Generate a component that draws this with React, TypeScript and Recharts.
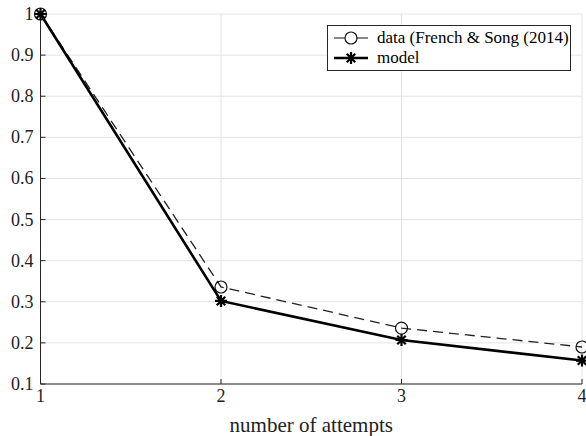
import React from "react";
import { LineChart, Line, XAxis, YAxis, CartesianGrid } from "recharts";

const attempts = [1, 2, 3, 4];
const frenchSong = [1, 0.336, 0.236, 0.19];
const model = [1, 0.302, 0.207, 0.157];
const yTicks = [0.1, 0.2, 0.3, 0.4, 0.5, 0.6, 0.7, 0.8, 0.9, 1];
const xTicks = [1, 2, 3, 4];

const chartData = attempts.map((a, i) => ({
  attempt: a,
  data: frenchSong[i],
  model: model[i],
}));

const FONT = "Liberation Serif";
const AXIS = "#262626";

const Circle = (props: any) => {
  const { cx, cy } = props;
  if (cx == null || cy == null) return <g />;
  return <circle cx={cx} cy={cy} r={6} fill="none" stroke="#111" strokeWidth={1.2} />;
};

const Star = (props: any) => {
  const { cx, cy } = props;
  if (cx == null || cy == null) return <g />;
  const r = 6;
  const d = [0, 45, 90, 135]
    .map((deg) => {
      const a = (deg * Math.PI) / 180;
      const dx = r * Math.cos(a);
      const dy = r * Math.sin(a);
      return `M${cx - dx},${cy - dy}L${cx + dx},${cy + dy}`;
    })
    .join("");
  return <path d={d} stroke="#000" strokeWidth={2.2} fill="none" />;
};

const yFmt = (v: number) => (v === 1 ? "1" : v.toFixed(1));

const YTick = (props: any) => {
  const { x, y, payload } = props;
  return (
    <text x={x} y={y} dy={6} textAnchor="end" fill="#222" fontSize={18} style={{ fontFamily: FONT }}>
      {yFmt(payload.value)}
    </text>
  );
};

const XTick = (props: any) => {
  const { x, y, payload } = props;
  return (
    <text x={x} y={y} dy={18} textAnchor="middle" fill="#222" fontSize={18} style={{ fontFamily: FONT }}>
      {payload.value}
    </text>
  );
};

const XLabel = (props: any) => {
  const { viewBox } = props;
  if (!viewBox) return null;
  return (
    <text
      x={viewBox.x + viewBox.width / 2}
      y={viewBox.y + 48}
      textAnchor="middle"
      fill="#222"
      fontSize={21}
      style={{ fontFamily: FONT }}
    >
      number of attempts
    </text>
  );
};

const rowStyle: React.CSSProperties = { display: "flex", alignItems: "center", height: 20 };

const LegendBox = () => (
  <div
    style={{
      position: "absolute",
      left: 327,
      top: 25,
      border: "1px solid #262626",
      background: "#fff",
      width: 244,
      height: 46,
      fontFamily: FONT,
      fontSize: 17,
      color: "#000",
      boxSizing: "border-box",
      padding: "2px 0 0 5px",
      lineHeight: "20px",
      whiteSpace: "nowrap",
    }}
  >
    <div style={rowStyle}>
      <svg width={38} height={18} style={{ flexShrink: 0 }}>
        <line x1={1} y1={9} x2={35} y2={9} stroke="#111" strokeWidth={1.2} />
        <circle cx={18} cy={9} r={6} fill="#fff" stroke="#111" strokeWidth={1.2} />
      </svg>
      <span style={{ marginLeft: 6 }}>data (French &amp; Song (2014)</span>
    </div>
    <div style={rowStyle}>
      <svg width={38} height={18} style={{ flexShrink: 0 }}>
        <line x1={1} y1={9} x2={35} y2={9} stroke="#000" strokeWidth={2.4} />
        <Star cx={18} cy={9} />
      </svg>
      <span style={{ marginLeft: 6 }}>model</span>
    </div>
  </div>
);

const Empty = () => <g />;

export default function App() {
  return (
    <div style={{ position: "absolute", left: 0, top: 0, width: 586, height: 436, background: "#fff" }}>
      <LineChart
        width={586}
        height={436}
        data={chartData}
        margin={{ top: 14, right: 4, left: 0, bottom: 0 }}
      >
        <CartesianGrid stroke="#e3e3e3" strokeWidth={1} horizontalValues={yTicks} verticalValues={xTicks} />
        <XAxis
          dataKey="attempt"
          type="number"
          domain={[1, 4]}
          ticks={xTicks}
          height={52}
          stroke={AXIS}
          tickSize={-5}
          tickMargin={5}
          tick={<XTick />}
          label={<XLabel />}
        />
        <XAxis
          xAxisId="top"
          orientation="top"
          dataKey="attempt"
          type="number"
          domain={[1, 4]}
          ticks={xTicks}
          height={0}
          stroke={AXIS}
          tickSize={-5}
          tick={Empty}
        />
        <YAxis
          type="number"
          domain={[0.1, 1]}
          ticks={yTicks}
          width={40.5}
          stroke={AXIS}
          tickSize={-5}
          tickMargin={12}
          tick={<YTick />}
          interval={0}
        />
        <YAxis
          yAxisId="right"
          orientation="right"
          type="number"
          domain={[0.1, 1]}
          ticks={yTicks}
          width={0}
          stroke={AXIS}
          tickSize={-5}
          tick={Empty}
          interval={0}
        />
        <Line
          dataKey="data"
          stroke="#222"
          strokeWidth={1.3}
          strokeDasharray="10 6"
          dot={<Circle />}
          activeDot={false}
          isAnimationActive={false}
        />
        <Line
          dataKey="model"
          stroke="#000"
          strokeWidth={2.6}
          dot={<Star />}
          activeDot={false}
          isAnimationActive={false}
        />
      </LineChart>
      <LegendBox />
    </div>
  );
}
